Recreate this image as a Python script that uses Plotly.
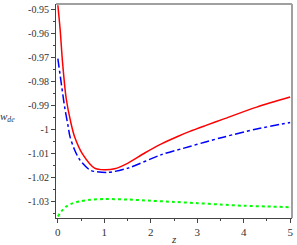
import plotly.graph_objects as go

z_red = [0, 0.05, 0.1, 0.18, 0.28, 0.36, 0.54, 0.79, 1.0, 1.22, 1.51, 1.87, 2.23, 2.59, 2.84, 3.16, 3.56, 4.28, 5.0]
w_red = [-0.9482, -0.9585, -0.9718, -0.9872, -0.9972, -1.0030, -1.0105, -1.0161, -1.0168, -1.0164, -1.0140,
         -1.0098, -1.0060, -1.0028, -1.0008, -0.9985, -0.9957, -0.9907, -0.9865]

z_blue = [0, 0.073, 0.144, 0.215, 0.26, 0.35, 0.47, 0.68, 0.79, 1.08, 1.51, 2.23, 2.84, 3.16, 3.56, 4.28, 5.0]
w_blue = [-0.9705, -0.9807, -0.9904, -0.9980, -1.0029, -1.0080, -1.0126, -1.0168, -1.0175, -1.0179, -1.0161,
          -1.0105, -1.0071, -1.0053, -1.0032, -0.9998, -0.9971]

z_green = [0, 0.08, 0.18, 0.3, 0.47, 0.7, 1.0, 1.5, 2.0, 2.5, 3.0, 3.5, 4.0, 4.5, 5.0]
w_green = [-1.0363, -1.0340, -1.0321, -1.0309, -1.0300, -1.0293, -1.0290, -1.0292, -1.0297, -1.0302, -1.0307,
           -1.0313, -1.0318, -1.0321, -1.0324]

y_ticks = [-0.95, -0.96, -0.97, -0.98, -0.99, -1.0, -1.01, -1.02, -1.03]
y_labels = ["-0.95", "-0.96", "-0.97", "-0.98", "-0.99", "-1", "-1.01", "-1.02", "-1.03"]
x_ticks = [0, 1, 2, 3, 4, 5]
x_labels = ["0", "1", "2", "3", "4", "5"]

fig = go.Figure()
fig.add_trace(go.Scatter(x=z_red, y=w_red, mode="lines",
                         line=dict(color="#ff0000", width=1.5, shape="spline", smoothing=0.8)))
fig.add_trace(go.Scatter(x=z_blue, y=w_blue, mode="lines",
                         line=dict(color="#0000ff", width=1.5, dash="dashdot", shape="spline", smoothing=0.8)))
fig.add_trace(go.Scatter(x=z_green, y=w_green, mode="lines",
                         line=dict(color="#00ff00", width=2, dash="dot", shape="spline", smoothing=0.8)))

font_serif = "Liberation Serif"
fig.update_layout(
    width=297, height=245,
    margin=dict(l=56, r=5, t=4, b=27),
    paper_bgcolor="white", plot_bgcolor="white",
    showlegend=False,
    font=dict(family=font_serif, size=10, color="#333"),
    xaxis=dict(range=[-0.04, 5.04], tickvals=x_ticks, ticktext=x_labels, showgrid=False, zeroline=False,
               showline=True, linecolor="#444", linewidth=1.2, ticks="outside", ticklen=4, tickcolor="#444",
               minor=dict(dtick=0.5, tick0=0, ticks="outside", ticklen=2, tickcolor="#444"),
               tickfont=dict(family=font_serif, size=11, color="#333")),
    yaxis=dict(range=[-1.0369, -0.9477], tickvals=y_ticks, ticktext=y_labels, showgrid=False, zeroline=False,
               showline=True, linecolor="#444", linewidth=1.2, ticks="outside", ticklen=4, tickcolor="#444",
               minor=dict(dtick=0.005, tick0=-1.0, ticks="outside", ticklen=2, tickcolor="#444"),
               tickfont=dict(family=font_serif, size=10, color="#333")),
)
fig.add_shape(type="line", xref="paper", yref="paper", x0=0, x1=1, y0=1, y1=1,
              line=dict(color="#a0a0a0", width=2))
fig.add_shape(type="line", xref="paper", yref="paper", x0=1, x1=1, y0=0, y1=1,
              line=dict(color="#a0a0a0", width=2))
fig.add_annotation(text="<i>w</i><sub><i>de</i></sub>", xref="paper", yref="paper", x=-0.165, y=0.47,
                   showarrow=False, xanchor="right", yanchor="middle",
                   font=dict(family=font_serif, size=11, color="#333"))
fig.add_annotation(text="<i>z</i>", xref="paper", yref="paper", x=0.5, y=-0.06,
                   showarrow=False, xanchor="center", yanchor="top",
                   font=dict(family=font_serif, size=11, color="#333"))
fig.write_html("out.html", config={"displayModeBar": False},
               post_script="document.body.style.margin='0px';document.body.style.overflow='hidden';")
